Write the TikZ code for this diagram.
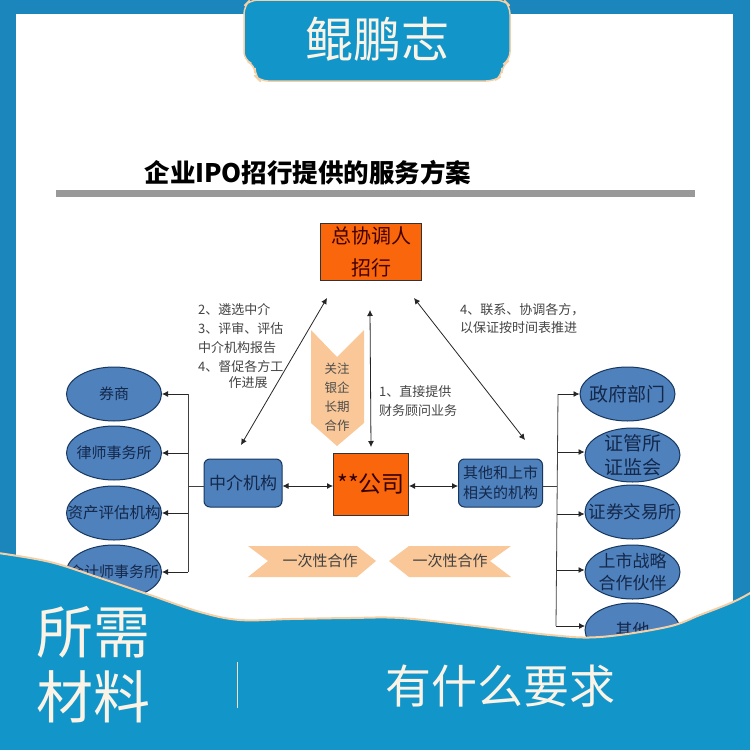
\documentclass[tikz,border=0pt]{standalone}
\usepackage{fontspec}
\setmainfont{Noto Sans CJK SC}
\usetikzlibrary{arrows.meta,shapes.geometric}
\definecolor{bandblue}{HTML}{1295C9}
\definecolor{stripblue}{HTML}{1A86BC}
\definecolor{edgetan}{HTML}{F5CFA6}
\definecolor{cream}{HTML}{FBF3E6}
\definecolor{ellblue}{HTML}{4F81BD}
\definecolor{ellline}{HTML}{17375E}
\definecolor{orangebox}{HTML}{F9660C}
\definecolor{peach}{HTML}{FAC898}
\definecolor{inkblue}{HTML}{14284A}
\definecolor{graytext}{HTML}{444444}
\tikzset{
  x=1pt,y=-1pt,
  ell/.style={ellipse,draw=ellline,line width=1pt,fill=ellblue,inner sep=0pt,minimum width=95,minimum height=54},
  lab/.style={inner sep=0pt,text=inkblue,align=center},
  rbox/.style={rounded corners=6pt,draw=ellline,line width=1pt,fill=ellblue,inner sep=0pt,text=inkblue,align=center},
  obox/.style={draw=black!80,line width=1pt,fill=orangebox,inner sep=0pt,align=center},
  note/.style={text=graytext,font=\fontsize{13}{18.7}\selectfont,align=left,inner sep=0pt},
  arr/.style={draw=black!85,line width=.8pt,-{Latex[length=6pt,width=6pt]}},
  darr/.style={draw=black!85,line width=.8pt,{Latex[length=6pt,width=6pt]}-{Latex[length=6pt,width=6pt]}},
  trunk/.style={draw=black!75,line width=.8pt},
  shapefill/.style={fill=peach,draw=none},
}
\begin{document}
\begin{tikzpicture}
\useasboundingbox (0,0) rectangle (750,750);
\fill[white] (0,0) rectangle (750,750);
% frame strips
\fill[stripblue] (0,0) rectangle (750,14);
\fill[stripblue] (733,14) rectangle (750,620);
\fill[stripblue] (0,14) rectangle (16,570);
% title
\node[font=\fontsize{25.5}{30}\selectfont\bfseries,anchor=center,inner sep=0pt] (title) at (308,173) {企业IPO招行提供的服务方案};
\fill[black!40] (56,190) rectangle (695,197);
% top boxes
\node[obox,minimum width=101,minimum height=57,font=\fontsize{20}{32}\selectfont,text=black!75!red] (zx) at (371,252) {总协调人\\招行};
\node[obox,minimum width=75,minimum height=62,font=\fontsize{23}{26}\selectfont,text=black!80!red] (co) at (371,484) {**公司};
\node[rbox,minimum width=78,minimum height=48,font=\fontsize{17}{20}\selectfont] (zj) at (243,483) {中介机构};
\node[rbox,minimum width=84,minimum height=48,font=\fontsize{15}{20}\selectfont] (qt) at (500.5,483) {其他和上市\\相关的机构};
% left ellipses
\node[ell,label={[lab,font=\fontsize{15}{17}\selectfont]center:券商}] (l1) at (114,394) {};
\node[ell,label={[lab,font=\fontsize{15}{17}\selectfont]center:律师事务所}] (l2) at (114,453) {};
\node[ell,label={[lab,font=\fontsize{15.5}{17}\selectfont]center:资产评估机构}] (l3) at (114,513) {};
\node[ell,label={[lab,font=\fontsize{15}{17}\selectfont]center:会计师事务所}] (l4) at (114,572) {};
% right ellipses
\node[ell,label={[lab,font=\fontsize{19}{22}\selectfont]center:政府部门}] (r1) at (627.5,394) {};
\node[ell,label={[lab,font=\fontsize{19}{24}\selectfont]center:{证管所\\证监会}}] (r2) at (632.5,455) {};
\node[ell,label={[lab,font=\fontsize{17.5}{20}\selectfont]center:证券交易所}] (r3) at (632.5,512) {};
\node[ell,label={[lab,font=\fontsize{17}{22}\selectfont]center:{上市战略\\合作伙伴}}] (r4) at (632.5,572) {};
\node[ell,label={[lab,font=\fontsize{17}{20}\selectfont]center:其他}] (r5) at (632.5,630) {};
% connectors left
\coordinate (lj) at (188,486);
\coordinate (lt) at (188,394);
\coordinate (lb) at (188,572);
\draw[trunk] (lt) -- (lb);
\draw[trunk] (zj.west |- lj) -- (lj);
\draw[arr] (lt) -- (l1.east);
\draw[arr] (188,453) -- (l2.east);
\draw[arr] (188,513) -- (l3.east);
\draw[arr] (lb) -- (l4.east);
% connectors right
\coordinate (rj) at (557,486);
\coordinate (rt) at (558,394);
\coordinate (rb) at (556,626);
\draw[trunk] (rt) -- (rb);
\draw[trunk] (qt.east |- rj) -- (rj);
\draw[arr] (rt) -- (r1.west);
\draw[arr] (558,452) -- (r2.west |- 0,452);
\draw[arr] (557,514) -- (r3.west |- 0,514);
\draw[arr] (557,570) -- (r4.west |- 0,570);
\draw[arr] (rb) -- (585,626);
% centre
\draw[darr] (zj.east |- 0,486) -- (co.west |- 0,486);
\draw[darr] (co.east |- 0,486) -- (qt.west |- 0,486);
\coordinate (a1) at (327,298);
\coordinate (a2) at (241,445);
\coordinate (b1) at (414,298);
\coordinate (b2) at (525,440);
\coordinate (c1) at (370,310);
\coordinate (c2) at (371,447);
\draw[darr] (a1) -- (a2);
\draw[darr] (b1) -- (b2);
\draw[darr] (c1) -- (c2);
% peach shapes
\fill[shapefill] (311,330) -- (337,357) -- (364,330) -- (364,423) -- (337,446) -- (311,423) -- cycle;
\fill[shapefill] (248,546) -- (357,546) -- (376,561) -- (357,577) -- (248,577) -- (268,561) -- cycle;
\fill[shapefill] (511,546) -- (409,546) -- (389,561) -- (409,577) -- (511,577) -- (490,561) -- cycle;
\node[font=\fontsize{12.5}{19}\selectfont,text=black!70,align=center,inner sep=0pt] (gz) at (337,397) {关注\\银企\\长期\\合作};
\node[font=\fontsize{15}{18}\selectfont,text=black!75,inner sep=0pt] (y1) at (320,561) {一次性合作};
\node[font=\fontsize{15}{18}\selectfont,text=black!75,inner sep=0pt] (y2) at (450,561) {一次性合作};
% notes
\node[note,anchor=west] (n1) at (198,338) {2、遴选中介\\3、评审、评估\\中介机构报告\\4、督促各方工};
\node[note] (n2) at (248,383) {作进展};
\node[note,anchor=west] (n3) at (460,318.5) {4、联系、协调各方，\\以保证按时间表推进};
\node[note,anchor=west] (n4) at (379,401) {1、直接提供\\财务顾问业务};
% bottom wave
\fill[bandblue] plot[smooth,tension=.6] coordinates {(-2,553) (50,562) (100,578) (150,595) (200,612) (240,620) (290,619) (350,618) (400,618) (467,625) (550,635) (600,637) (667,627) (700,615) (733,602) (752,592)}
  -- (752,752) -- (-2,752) -- cycle;
\draw[edgetan,line width=2pt] plot[smooth,tension=.6] coordinates {(-2,553) (50,562) (100,578) (150,595) (200,612) (240,620) (290,619) (350,618) (400,618) (467,625) (550,635) (600,637) (667,627) (700,615) (733,602) (752,592)};
\node[font=\fontsize{57}{65}\selectfont,text=cream,align=left,inner sep=0pt,anchor=west] (suo) at (36,665) {所需\\材料};
\draw[edgetan!70!white,line width=1pt] (237,662) -- (237,708);
\node[font=\fontsize{46}{50}\selectfont,text=cream,inner sep=0pt] (yq) at (500,686) {有什么要求};
% top badge
\fill[bandblue,draw=edgetan,line width=1.5pt,rounded corners=8pt]
  (250,0) -- (504,0) -- (510,6) -- (510,60) -- (502,65) -- (502,76) -- (494,81) -- (260,81) -- (255,76) -- (255,65) -- (244,60) -- (244,6) -- cycle;
\node[font=\fontsize{48}{52}\selectfont,text=cream,inner sep=0pt] (kp) at (377,39) {鲲鹏志};
\end{tikzpicture}
\end{document}
